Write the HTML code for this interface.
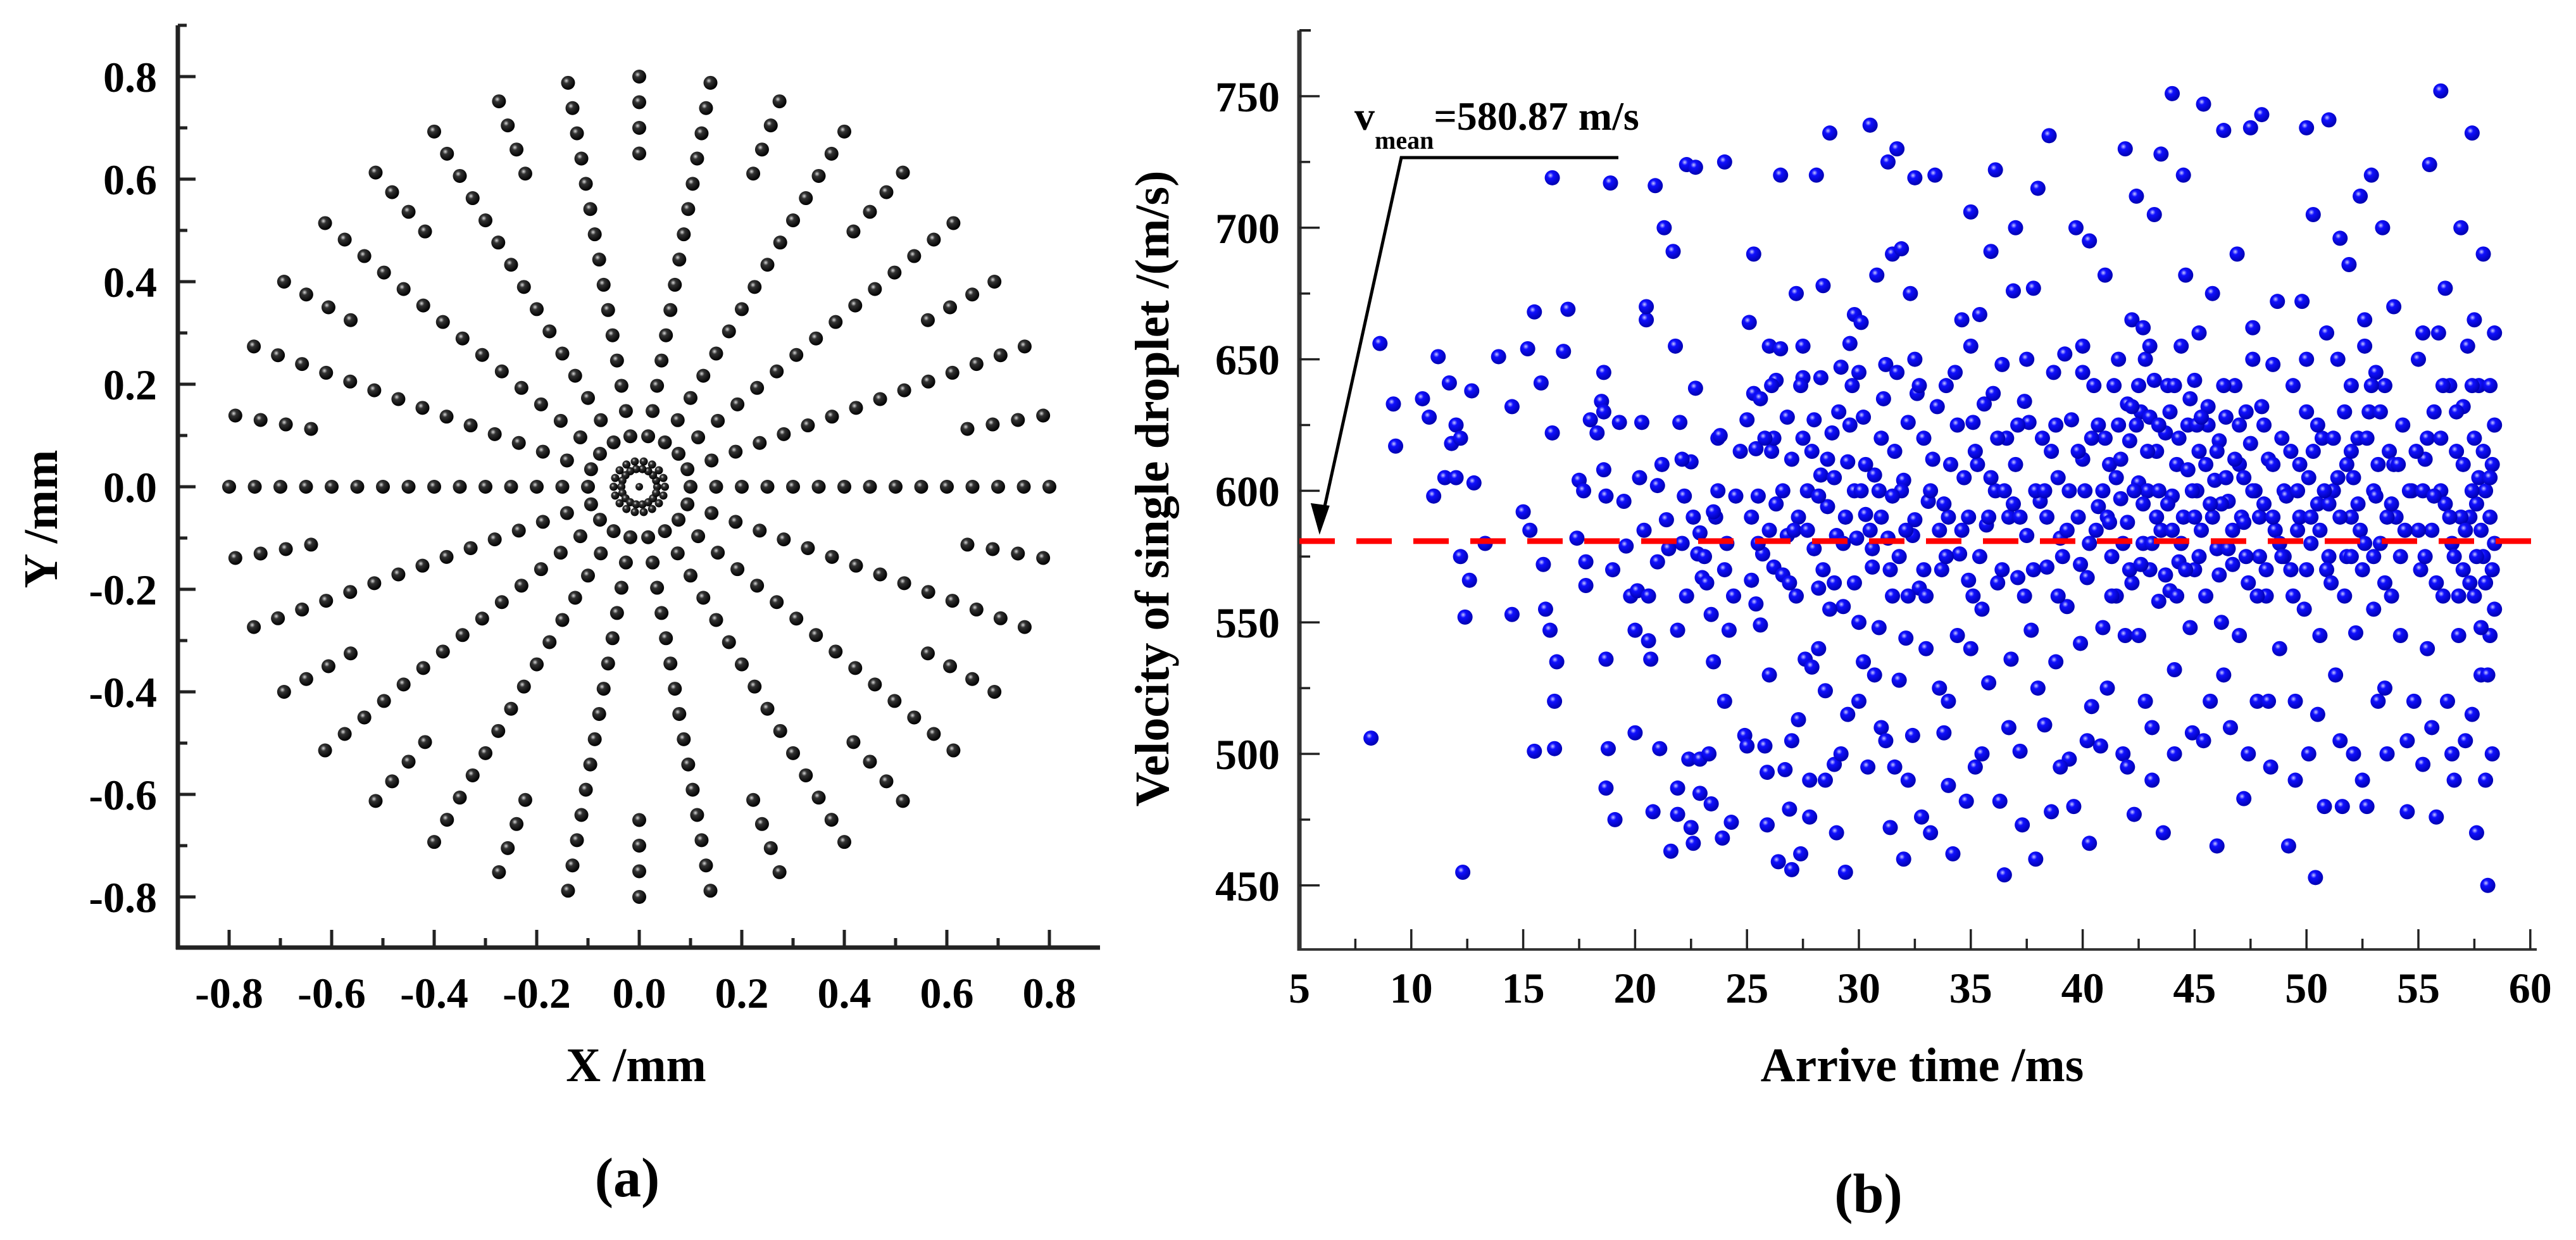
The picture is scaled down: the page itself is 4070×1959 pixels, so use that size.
<!DOCTYPE html>
<html><head><meta charset="utf-8"><style>
html,body{margin:0;padding:0;background:#fff}
svg{display:block}
text{font-family:"Liberation Serif",serif;font-weight:bold;fill:#000}
</style></head><body>
<svg id="fig" width="4070" height="1959" viewBox="0 0 4070 1959" xmlns="http://www.w3.org/2000/svg">
<defs>
<radialGradient id="gBlack" cx="38%" cy="35%" r="65%"><stop offset="0" stop-color="#d8d8d8"/><stop offset="0.3" stop-color="#333"/><stop offset="1" stop-color="#000"/></radialGradient>
<radialGradient id="gBlue" cx="38%" cy="35%" r="65%"><stop offset="0" stop-color="#c8c8ff"/><stop offset="0.3" stop-color="#1010ff"/><stop offset="1" stop-color="#0000b0"/></radialGradient>
</defs>
<g id="chartA"></g>
<g id="chartB"></g>
</svg>
<script>
// ---------- Chart (a) data ----------
const fullSpokeAngles = [0,20,40,60,80,100,120,140,160,180,200,220,240,260,280,300,320,340];
const partialSpokeAngles = [10,30,50,70,90,110,130,150,170,190,210,230,250,270,290,310,330,350];
const fullRadii = [0.1,0.15,0.2,0.25,0.3,0.35,0.4,0.45,0.5,0.55,0.6,0.65,0.7,0.75,0.8];
const partialRadii = [0.65,0.7,0.75,0.8];
const innerRingAngles = [0,20,40,60,80,100,120,140,160,180,200,220,240,260,280,300,320,340];
const innerRingRadii = [0.035,0.05];
const axisTicksA = [-0.8,-0.6,-0.4,-0.2,0.0,0.2,0.4,0.6,0.8];
const axisTickLabelsA = ["-0.8","-0.6","-0.4","-0.2","0.0","0.2","0.4","0.6","0.8"];

// ---------- Chart (b) data ----------
const xTicksB = [5,10,15,20,25,30,35,40,45,50,55,60];
const yTicksB = [450,500,550,600,650,700,750];
const meanVelocity = 580.87;
const droplets = [
[8.2,506],[8.6,656],[9.2,633],[9.3,617],[10.5,635],[10.8,628],[11,598],[11.2,651],[11.5,605],[11.7,641],[11.8,618],[12,605],[12,625],[12.2,620],[12.4,552],[12.3,455],[12.2,575],[12.6,566],[12.7,638],[12.8,603],[13.3,580],[13.9,651],[14.5,632],[14.5,553],[15,592],[15.2,654],[15.3,585],[15.5,668],[15.5,501],[15.8,641],[15.9,572],[16,555],[16.2,547],[16.3,622],[16.3,719],[16.4,520],[16.4,502],[16.5,535],[16.8,653],[17,669],[17.4,582],[17.5,604],[17.7,600],[17.8,573],[17.8,564],[18,627],[18.3,622],[18.5,634],[18.6,608],[18.6,645],[18.6,630],[18.7,598],[18.7,536],[18.7,487],[18.8,502],[18.9,717],[19,570],[19.1,475],[19.3,626],[19.5,596],[19.6,579],[19.8,560],[20,547],[20,508],[20.1,562],
[20.2,605],[20.3,626],[20.4,585],[20.5,665],[20.5,670],[20.6,560],[20.6,543],[20.7,536],[20.8,478],[20.9,716],[21,573],[21,602],[21.2,610],[21.3,700],[21.4,589],[21.1,502],[21.6,463],[21.7,691],[21.8,655],[21.9,547],[21.9,487],[21.9,477],
[22,626],[22.1,580],[22.2,598],[22.3,724],[22.3,560],[22.4,498],[22.5,611],[22.5,472],[22.6,466],[22.7,723],[22.7,639],[22.8,576],[22.9,584],[22.9,498],[22.9,485],[23,567],[23.2,565],[23.3,500],[23.4,481],[23.4,553],[23.5,535],[23.6,590],[23.7,620],[23.7,600],[23.8,621],[23.9,468],[24,725],[24,570],[24.1,580],[24.2,547],[24.3,474],[24.5,598],
[24.9,507],[25,627],[25,503],[25.1,664],[25.2,590],[25.2,566],[25.3,637],[25.3,690],[25.4,616],[25.4,557],[25.5,598],[25.6,549],[25.7,576],[25.8,503],[25.9,473],[25.9,493],[26,655],[26,585],[26.1,615],[26.2,571],[26.2,620],[26.3,642],[26.4,459],[26.5,720],[26.5,654],[26.6,568],[26.7,494],[26.8,583],[26.9,479],[27,456],[27,612],[27.2,675],[27.2,560],[27.3,513],[27.4,462],[27.5,643],[27.5,620],[27.6,536],[27.7,600],[27.8,490],[27.8,476],[27.9,533],[28,627],[28,578],[28.1,720],[28.2,563],[28.3,643],[28.3,606],[28.4,678],[28.5,490],[28.5,524],[28.6,594],[28.7,736],[28.8,622],[28.9,565],[28.9,496],[29,470],[29,583],[29.2,647],[29.3,556],[29.4,455],[29.5,611],[29.5,515],[29.6,656],[29.7,640],[29.8,600],[29.8,667],[29.9,582],[30,550],[30,520],[30.1,664],[30.2,628],[30.3,591],[30.4,495],[30.5,739],[30.6,571],[30.7,606],[30.7,530],[30.8,682],[30.9,548],[31,620],[31,510],[31.2,648],[31.3,725],[31.3,582],[31.4,472],[31.5,690],[31.5,560],[31.6,495],[31.7,730],[31.7,645],[31.8,575],[31.8,528],[31.9,692],[32,460],[32,604],[32.1,544],[32.2,626],[32.3,675],[32.4,507],[32.5,719],[32.5,589],[32.6,637],[32.7,563],[32.8,476],[32.9,620],[33,560],[33.1,596],[33.2,470],[33.4,720],[33.5,632],[33.6,525],[33.7,570],[33.8,508],[33.9,640],[34,488],[34,590],[34.2,462],[34.3,645],[34.4,545],[34.5,576],[34.6,665],[34.7,605],[34.8,482],[34.9,566],[35,706],[35,540],[35.1,626],[35.2,495],[35.3,610],[35.4,667],[35.5,555],[35.6,633],[35.7,587],[35.8,527],[35.9,691],[36,637],[36.1,722],[36.1,600],[36.2,565],[36.3,482],[36.4,648],[36.5,454],[36.6,620],[36.7,590],[36.8,536],[36.9,676],[37,700],[37,610],[37.1,567],[37.2,501],[37.3,473],[37.4,634],[37.5,583],[37.6,626],[37.7,547],[37.8,677],[37.9,460],[38,715],[38.1,596],[38.2,620],[38.3,511],[38.4,571],[38.5,735],[38.6,478],[38.7,645],[38.8,535],[38.9,605],[39,582],[39.2,652],[39.3,556],[39.4,498],[39.5,627],[39.6,480],[39.7,700],[39.8,590],[39.9,542],[40,655],[40,612],[40.2,567],[40.3,695],[40.3,466],[40.4,518],[40.5,640],[40.6,585],[40.7,594],[40.8,503],[40.9,548],[41,682],[41,620],
[41.2,610],[41.3,575],[41.4,640],[41.5,560],[41.6,625],[41.7,597],[41.8,500],[41.9,730],[41.9,545],[42,633],[42,588],[42.1,619],[42.2,665],[42.2,565],[42.3,477],[42.4,712],[42.5,603],[42.5,545],[42.6,630],[42.7,580],[42.8,650],[42.8,520],[42.9,600],[43,570],[43,628],[43.1,490],[43.2,705],[43.2,642],[43.3,615],[43.4,558],[43.5,585],[43.5,728],[43.6,470],[43.7,622],[43.8,640],[43.9,562],[44,751],[44,598],[44.1,532],[44.2,610],[44.3,573],[44.4,655],[44.5,720],[44.5,590],[44.6,682],[44.7,625],[44.8,548],[44.9,508],[45,642],[45,570],[45.1,600],[45.2,615],[45.3,585],[45.4,747],[45.5,560],[45.6,632],[45.7,520],[45.8,675],[45.9,604],[46,578],[46,465],[46.1,619],[46.2,550],[46.3,737],[46.4,628],[46.5,596],[46.6,510],[46.7,572],[46.8,640],[46.9,690],[47,610],[47,545],[47.1,590],[47.2,483],[47.3,630],[47.4,565],[47.5,738],[47.6,650],[47.7,600],[47.8,520],[47.9,575],[48,632],[48,743],[48.2,560],[48.3,612],[48.4,495],[48.5,648],[48.6,585],[48.7,672],[48.8,540],[48.9,620],[49,600],[49.2,465],[49.3,570],[49.4,640],[49.5,520],[49.6,585],[49.7,610],[49.8,672],[49.9,555],[50,738],[50,630],[50.1,500],[50.2,580],[50.3,705],[50.4,453],[50.5,595],[50.6,545],[50.7,620],[50.8,480],[50.9,660],[51,741],[51,575],[51.2,600],[51.3,530],[51.4,650],[51.5,696],[51.6,480],[51.7,560],[51.8,610],[51.9,686],[52,640],[52,590],[52.1,500],[52.2,546],[52.3,620],[52.4,712],[52.5,570],[52.6,665],[52.7,480],[52.8,630],[52.9,720],[53,600],[53,555],[53.1,645],[53.2,520],[53.3,580],[53.4,700],[53.5,640],[53.6,500],[53.7,615],[53.8,560],[53.9,670],[54,590],[54.2,545],[54.3,625],[54.5,478],[54.7,600],[54.8,520],[55,650],[55.1,570],[55.2,496],[55.3,612],[55.4,540],[55.5,724],[55.6,585],[55.7,630],[55.8,476],[55.9,660],[56,752],[56,600],[56.1,560],[56.2,677],[56.3,520],[56.4,640],[56.5,580],[56.6,490],[56.7,615],[56.8,545],[56.9,700],[57,570],[57,632],[57.1,505],[57.2,655],[57.3,590],[57.4,736],[57.5,560],[57.5,620],[57.6,470],[57.7,640],[57.8,585],[57.8,530],[57.9,690],[58,600],[58,565],[58.1,450],[58.2,640],[58.2,545],[58.3,610],[58.3,500],[58.4,580],[58.4,660],
[25.5,580],[26.3,595],[26.9,565],[27.3,590],[27.9,615],[28.4,570],[28.9,605],[29.3,580],[29.8,565],[30.3,610],[30.6,578],[31,590],[31.4,570],[31.9,600],[32.4,583],[32.9,570],[33.3,612],[33.8,595],[34.4,625],[34.9,590],[35.4,575],[35.9,605],[36.4,570],[36.9,595],[37.4,560],[37.9,600],[38.4,590],[38.9,560],[39.4,600],[39.9,572],[40.4,620],[40.9,600],[41.1,590],[41.5,605],[41.8,580],[42.1,570],[42.4,625],[42.7,595],[43.1,580],[43.4,600],[43.7,568],[44,585],[44.3,620],[44.6,570],[44.9,600],[45.2,575],[45.5,610],[45.8,590],[46.1,568],[46.4,605],[46.7,585],[47,625],[47.3,575],[47.6,600],[47.9,590],[48.2,570],[48.5,610],[48.8,580],[49.1,598],[49.4,560],[49.7,590],[50,570],[50.3,615],[50.6,585],[50.9,570],[51.2,620],[51.5,590],[51.8,575],[52.1,605],[52.4,585],[52.7,620],[53,575],[53.3,630],[53.6,590],[53.9,610],[54.2,575],[54.6,600],[55,585],[55.4,620],[55.8,565],[56.2,595],[56.6,575],[57,610],[57.3,565],[57.6,595],[57.9,575],[58.2,590],[58.4,625],[56.8,560],[57.8,548],[58.1,530],[57.4,640],[42.5,640],[43.9,630],[44.8,635],[45.6,625],[46.3,640],[41.6,650],[43,655],
[22.6,590],[23.1,575],[24.4,560],[25.8,620],[26.6,600],[27.1,585],[28.7,555],[29.6,625],[30.9,600],[31.6,615],[32.2,560],[33.6,585],[34.1,610],[35.1,560],[36.2,620],[37.2,590],[38.6,615],[39.1,575],[40.1,600],[41.3,560],[42.3,600],[43.3,590],[44.2,560],[45.1,625],[46.2,595],[47.2,605],[48.1,595],[49,575],[50.1,605],[51,595],[52,575],[53.1,598],[54.1,610],[55.2,600],[56,620],[56.9,590],[57.7,605],[58.3,570],
[21.5,578],[22.1,612],[23.5,592],[24.7,615],[25.6,635],[26.1,640],[26.8,628],[27.4,640],[27.7,585],[28.2,598],[28.6,612],[29.1,630],[29.4,590],[30.1,600],[30.5,585],[31.1,635],[31.5,598],[32.1,585],[32.7,640],[33.2,600],[33.9,575],[34.6,585],[35.2,615],[35.8,590],[36.5,600],[37.1,625],[37.8,570],[38.3,600],[38.8,625],[39.3,585],[39.8,615],[40.3,580],[40.7,625],[41.2,588],[41.7,612],[42.2,632],[42.6,572],[42.9,615],[43.4,625],[43.8,595],[44.1,640],[44.4,580],[44.7,608],[45,590],[45.3,628],[45.7,595],[46,615],[46.5,578],[46.8,612],[47.2,588],[47.5,618],[47.8,560],[48.1,625],[48.5,590],[48.9,575],[49.3,615],[49.6,600],[50.2,590],[50.5,625],[50.8,600],[51.1,565],[51.4,605],[51.7,630],[52,615],[52.3,595],[52.6,580],[52.9,640],[53.2,610],[53.5,565],[53.8,595],[54.4,585],[54.9,615],[55.3,575],[55.7,598],[56.1,640],[56.4,590],[56.7,630],[57.1,585],[57.4,600],[57.6,575],[57.9,615],[58.2,605],[58.4,555],
[24,520],[26,530],[27,505],[28.2,540],[29.2,500],[30.2,535],[31.2,505],[32.2,490],[33,540],[34,520],[35.5,500],[36.7,510],[38,525],[39,495],[40.2,505],[41.1,525],[42,495],[43.1,510],[44.1,500],[45.4,505],[46.3,530],[47.4,500],[48.3,520],[49.5,490],[50.5,515],[51.5,505],[52.5,490],[53.5,525],[54.5,505],[55.6,510],[56.5,500],[57.4,515],[58,490],
[27.5,655],[30,645],[32.5,650],[35,655],[37.5,650],[40,645],[42.7,662],[45.2,660],[47.6,662],[50,650],[52.6,655],[55.2,660],[57.5,665]
];

const NS = "http://www.w3.org/2000/svg";
function mk(parent, tag, attrs, txt){
  const e = document.createElementNS(NS, tag);
  for (const k in attrs) e.setAttribute(k, attrs[k]);
  if (txt !== undefined) e.textContent = txt;
  parent.appendChild(e);
  return e;
}

// ---------- Chart (a) ----------
(function(){
  const g = document.getElementById('chartA');
  const x0 = 1010, y0 = 769, s = 810;
  const X = v => x0 + v*s, Y = v => y0 - v*s;
  const left = 281, bottom = 1497, top = 40, right = 1738;
  let e;
  e = mk(g,'line',{x1:left,y1:top,x2:left,y2:bottom+3,stroke:'#222','stroke-width':7});
   
  e = mk(g,'line',{x1:left-3,y1:bottom,x2:right,y2:bottom,stroke:'#222','stroke-width':7});
   
  mk(g,'line',{x1:left,y1:top,x2:left+14,y2:top,stroke:'#222','stroke-width':5});
  for (let i=-9;i<=9;i++){
    const v = i/10, major = (i%2===0);
    const len = major?28:15;
    const yy = Y(v);
    if (yy>top && yy<bottom) mk(g,'line',{x1:left,y1:yy,x2:left+len,y2:yy,stroke:'#222','stroke-width':5});
    const xx = X(v);
    if (xx>left && xx<right) mk(g,'line',{x1:xx,y1:bottom,x2:xx,y2:bottom-len,stroke:'#222','stroke-width':5});
  }
  axisTicksA.forEach((v,i)=>{
    let t = mk(g,'text',{x:248,y:Y(v)+24,'text-anchor':'end','font-size':68},axisTickLabelsA[i]);
     
    t = mk(g,'text',{x:X(v),y:1592,'text-anchor':'middle','font-size':68},axisTickLabelsA[i]);
     
  });
  let t = mk(g,'text',{x:1005,y:1708,'text-anchor':'middle','font-size':76},'X /mm');
   
  t = mk(g,'text',{x:0,y:0,'text-anchor':'middle','font-size':76,transform:'translate(90,820) rotate(-90)'},'Y /mm');
   
  t = mk(g,'text',{x:991,y:1890,'text-anchor':'middle','font-size':88},'(a)');
   
  function dot(r,ang,rad,name){
    const a = ang*Math.PI/180;
    const c = mk(g,'circle',{cx:X(r*Math.cos(a)),cy:Y(r*Math.sin(a)),r:rad,fill:'url(#gBlack)'});
    
    
  }
  fullSpokeAngles.forEach(a=>fullRadii.forEach(r=>dot(r,a,11,'nozzle-hole')));
  partialSpokeAngles.forEach(a=>partialRadii.forEach(r=>dot(r,a,11,'nozzle-hole')));
  innerRingRadii.forEach(r=>innerRingAngles.forEach(a=>dot(r,a,6.5,'inner-ring-hole')));
  dot(0,0,6,'center-hole');
})();

// ---------- Chart (b) ----------
(function(){
  const g = document.getElementById('chartB');
  const left = 2053, right = 4008, bottom = 1500, top = 48;
  const X = v => left + (v-5)*35.36;
  const Y = v => 152 + (750-v)*4.156;
  let e;
  e = mk(g,'line',{x1:left,y1:top,x2:left,y2:bottom+2,stroke:'#333','stroke-width':7});
   
  e = mk(g,'line',{x1:left-3,y1:bottom,x2:right,y2:bottom,stroke:'#333','stroke-width':4});
   
  mk(g,'line',{x1:left,y1:top,x2:left+18,y2:top,stroke:'#222','stroke-width':4});
  for (let v=425; v<=775; v+=25){
    const yy=Y(v); if (yy<=top+2||yy>=bottom-2) continue;
    const major = (v%50===0);
    mk(g,'line',{x1:left,y1:yy,x2:left+(major?32:17),y2:yy,stroke:'#222','stroke-width':3.5});
  }
  for (let v=5; v<=60; v+=2.5){
    const xx=X(v); const major=(v%5===0);
    if (xx<=left+2) continue;
    mk(g,'line',{x1:xx,y1:bottom,x2:xx,y2:bottom-(major?32:17),stroke:'#222','stroke-width':3.5});
  }
  yTicksB.forEach(v=>{
    const t = mk(g,'text',{x:2022,y:Y(v)+24,'text-anchor':'end','font-size':68},String(v));
     
  });
  xTicksB.forEach(v=>{
    const t = mk(g,'text',{x:X(v),y:1584,'text-anchor':'middle','font-size':68},String(v));
     
  });
  let t = mk(g,'text',{x:3037,y:1708,'text-anchor':'middle','font-size':76},'Arrive time /ms');
   
  t = mk(g,'text',{x:0,y:0,'text-anchor':'middle','font-size':76,transform:'translate(1846,772) rotate(-90)'},'Velocity of single droplet /(m/s)');
   
  t = mk(g,'text',{x:2952,y:1915,'text-anchor':'middle','font-size':88},'(b)');
   
  droplets.forEach(p=>{
    const c = mk(g,'circle',{cx:X(p[0]),cy:Y(p[1]),r:12,fill:'url(#gBlue)'});
    
    
  });
  const my = Y(meanVelocity);
  e = mk(g,'line',{x1:left,y1:my,x2:right,y2:my,stroke:'#f00','stroke-width':9,'stroke-dasharray':'56,34'});
   
  e = mk(g,'polyline',{points:`2557,249 2214,249 ${X(6.1)},${my-50}`,fill:'none',stroke:'#000','stroke-width':5});
   
  e = mk(g,'path',{d:`M${X(5.9)},${my-10} l-14,-50 l30,4 z`,fill:'#000'});
   
  t = mk(g,'text',{x:2140,y:205,'font-size':64});
   
  mk(t,'tspan',{},'v');
  mk(t,'tspan',{'font-size':40,dy:30},'mean');
  mk(t,'tspan',{dy:-30},'=580.87 m/s');
})();
</script>
</body></html>
